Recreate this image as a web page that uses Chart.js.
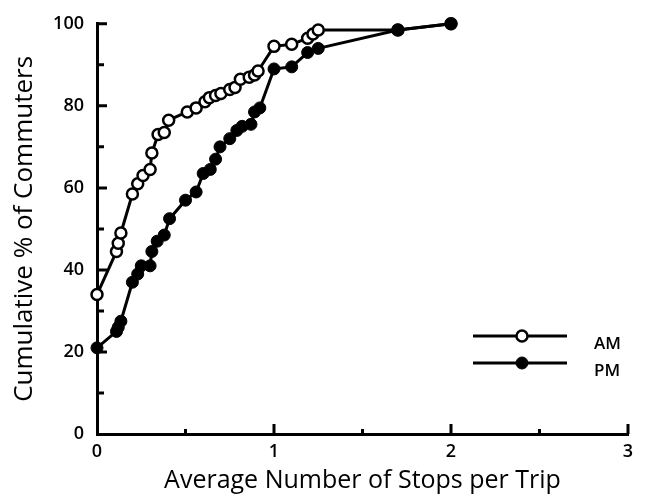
<!DOCTYPE html>
<html>
<head>
<meta charset="utf-8">
<script src="https://cdn.jsdelivr.net/npm/chart.js@4.4.0/dist/chart.umd.min.js"></script>
<style>
  html, body { margin: 0; padding: 0; background: #fff; }
  #wrap { width: 645px; height: 496px; }
</style>
</head>
<body>
<div id="wrap"><canvas id="myChart"></canvas></div>
<script>
// AM commuters (open circles)
var amX = [0, 0.11, 0.12, 0.135, 0.2, 0.23, 0.26, 0.3, 0.31, 0.345, 0.38, 0.405,
           0.51, 0.56, 0.61, 0.635, 0.67, 0.70, 0.75, 0.78, 0.81, 0.86, 0.89, 0.91,
           1.0, 1.1, 1.19, 1.22, 1.25, 1.7, 2.0];
var amY = [34, 44.5, 46.5, 49, 58.5, 61, 63, 64.5, 68.5, 73, 73.5, 76.5,
           78.5, 79.5, 81, 82, 82.5, 83, 84, 84.5, 86.5, 87, 87.5, 88.5,
           94.5, 95, 96.5, 97.5, 98.5, 98.5, 100];

// PM commuters (filled circles)
var pmX = [0, 0.11, 0.12, 0.135, 0.2, 0.23, 0.25, 0.3, 0.31, 0.34, 0.38, 0.41,
           0.5, 0.56, 0.6, 0.64, 0.67, 0.695, 0.75, 0.79, 0.82, 0.87, 0.89, 0.92,
           1.0, 1.1, 1.19, 1.25, 1.7, 2.0];
var pmY = [21, 25, 26, 27.5, 37, 39, 41, 41, 44.5, 47, 48.5, 52.5,
           57, 59, 63.5, 64.5, 67, 70, 72, 74, 75, 75.5, 78.5, 79.5,
           89, 89.5, 93, 94, 98.5, 100];

var xTicks = [0, 1, 2, 3];
var xMinor = [0.5, 1.5, 2.5];
var yTicks = [0, 20, 40, 60, 80, 100];
var yMinor = [10, 30, 50, 70, 90];

var seriesNames = ["AM", "PM"];

function toPoints(xs, ys) {
  return xs.map(function(x, i) { return { x: x, y: ys[i] }; });
}

// ticks pointing into the plot, like the original figure
var innerTicks = {
  id: 'innerTicks',
  afterDraw: function(chart) {
    var c = chart.ctx, xs = chart.scales.x, ys = chart.scales.y;
    var x0 = xs.getPixelForValue(0), y0 = ys.getPixelForValue(0);
    c.save();
    c.strokeStyle = '#000';
    c.lineWidth = 3;
    c.lineCap = 'butt';
    c.beginPath();
    yTicks.forEach(function(v) {
      if (v === 0) return;
      var p = ys.getPixelForValue(v);
      c.moveTo(x0, p); c.lineTo(x0 + 10, p);
    });
    yMinor.forEach(function(v) {
      var p = ys.getPixelForValue(v);
      c.moveTo(x0, p); c.lineTo(x0 + 7, p);
    });
    xTicks.forEach(function(v) {
      if (v === 0) return;
      var p = xs.getPixelForValue(v);
      c.moveTo(p, y0); c.lineTo(p, y0 - 10);
    });
    xMinor.forEach(function(v) {
      var p = xs.getPixelForValue(v);
      c.moveTo(p, y0); c.lineTo(p, y0 - 5);
    });
    c.stroke();
    c.restore();
  }
};

// legend drawn as line + marker, like the figure
var lineLegend = {
  id: 'lineLegend',
  afterDraw: function(chart) {
    var c = chart.ctx;
    c.save();
    chart.data.datasets.forEach(function(ds, i) {
      var y = 336 + i * 27;
      c.strokeStyle = '#000';
      c.lineWidth = 3;
      c.beginPath();
      c.moveTo(473, y); c.lineTo(567, y);
      c.stroke();
      c.beginPath();
      c.arc(522, y, ds.pointRadius, 0, Math.PI * 2);
      c.fillStyle = ds.pointBackgroundColor;
      c.fill();
      c.lineWidth = ds.pointBorderWidth;
      c.stroke();
      c.fillStyle = '#000';
      c.font = '600 17px "Open Sans"';
      c.textBaseline = 'middle';
      c.fillText(ds.label, 594, y + 8);
    });
    c.restore();
  }
};

var ctx = document.getElementById('myChart').getContext('2d');
var chart = new Chart(ctx, {
  type: 'scatter',
  data: {
    datasets: [{
      label: seriesNames[0],
      data: toPoints(amX, amY),
      showLine: true,
      borderColor: '#000',
      borderWidth: 3,
      pointRadius: 5.5,
      pointBorderWidth: 2.5,
      pointBackgroundColor: '#fff',
      pointBorderColor: '#000',
      clip: false,
      order: 1
    }, {
      label: seriesNames[1],
      data: toPoints(pmX, pmY),
      showLine: true,
      borderColor: '#000',
      borderWidth: 3,
      pointRadius: 6,
      pointBorderWidth: 1,
      pointBackgroundColor: '#000',
      pointBorderColor: '#000',
      clip: false,
      order: 0
    }]
  },
  options: {
    responsive: true,
    maintainAspectRatio: false,
    animation: false,
    layout: { padding: { top: 21, right: 17, left: 0, bottom: 0 } },
    plugins: {
      legend: { display: false },
      tooltip: { enabled: false }
    },
    scales: {
      x: {
        type: 'linear',
        min: 0, max: 3,
        afterFit: function(s) { s.height = 62; },
        afterBuildTicks: function(s) { s.ticks = xTicks.map(function(v) { return { value: v }; }); },
        grid: { display: false, drawTicks: false },
        border: { display: true, color: '#000', width: 3 },
        ticks: { color: '#000', padding: 7, font: { family: 'Open Sans', size: 18, weight: '600' } },
        title: {
          display: true,
          text: 'Average Number of Stops per Trip',
          color: '#000',
          font: { family: 'Open Sans', size: 25 },
          padding: { top: 2, bottom: 0 }
        }
      },
      y: {
        min: 0, max: 100,
        afterFit: function(s) { s.width = 97; },
        afterBuildTicks: function(s) { s.ticks = yTicks.map(function(v) { return { value: v }; }); },
        grid: { display: false, drawTicks: false },
        border: { display: true, color: '#000', width: 3 },
        ticks: { color: '#000', padding: 13, font: { family: 'Open Sans', size: 18, weight: '600' } },
        title: {
          display: true,
          text: 'Cumulative % of Commuters',
          color: '#000',
          font: { family: 'Open Sans', size: 26 },
          padding: { top: 9, bottom: 0 }
        }
      }
    }
  },
  plugins: [innerTicks, lineLegend]
});
</script>
</body>
</html>
